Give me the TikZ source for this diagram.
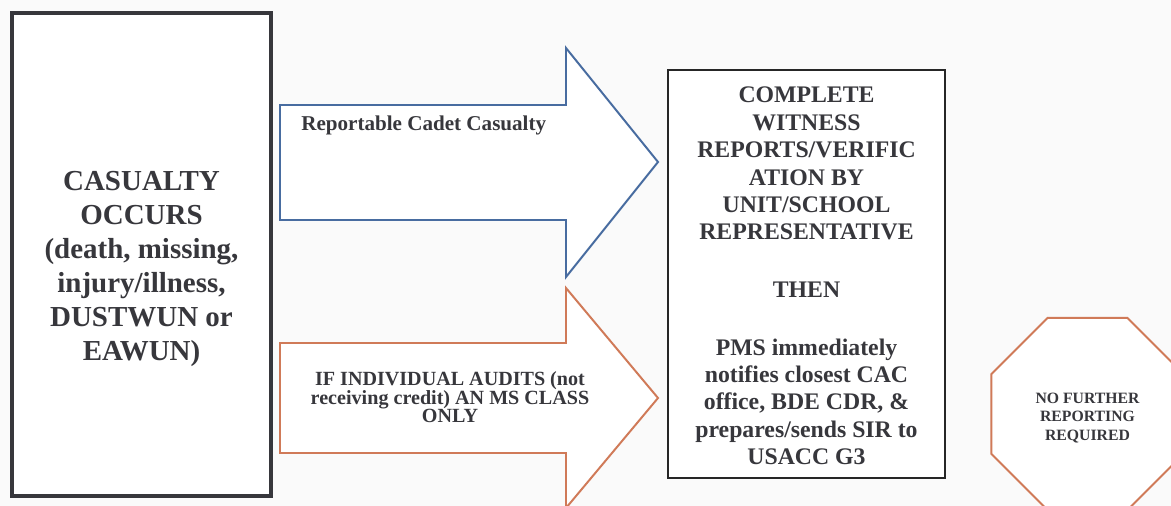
\documentclass[tikz,border=0pt]{standalone}
\usepackage{fontspec}
\setmainfont{Liberation Serif}[BoldFont={Liberation Serif Bold}]
\usetikzlibrary{shapes.geometric}
\definecolor{flechaazul}{RGB}{72,108,160}
\definecolor{flechanaranja}{RGB}{208,122,88}
\definecolor{textogris}{RGB}{55,55,60}

\begin{document}
\begin{tikzpicture}[x=0.025cm, y=-0.025cm,
  caja/.style={draw, rectangle, fill=white, inner sep=0pt},
  texto/.style={text=textogris, align=center, inner sep=0pt},
  flecha/.style={line width=1.4pt, fill=white, line join=miter}]

  % Fondo
  \fill[gray!4] (0,0) rectangle (1171,506);
  \useasboundingbox (0,0) rectangle (1171,506);

  % Caja de la izquierda
  \node[caja, draw=textogris, line width=2.8pt,
        minimum width=6.475cm, minimum height=12.075cm] (casualty) at (141.5,254.5) {};
  \node[texto, font=\bfseries\fontsize{20.6}{24.2}\selectfont] (casualtytxt) at (141.5,269)
    {CASUALTY\\ OCCURS\\ (death, missing,\\ injury/illness,\\ DUSTWUN or\\ EAWUN)};

  %-------------------------------------
  % FLECHA AZUL (arriba)
  %-------------------------------------
  \draw[flecha, draw=flechaazul]
    (280,105) -- (566,105) -- (566,48) -- (658,162) -- (566,277) -- (566,220) -- (280,220) -- cycle;
  \node[texto, anchor=west, font=\bfseries\fontsize{15}{17}\selectfont] (reportable) at (301,125)
    {Reportable Cadet Casualty};

  %-------------------------------------
  % FLECHA NARANJA (abajo)
  %-------------------------------------
  \draw[flecha, draw=flechanaranja]
    (280,343) -- (566,343) -- (566,288) -- (658,398) -- (566,508) -- (566,453) -- (280,453) -- cycle;
  \node[texto, font=\bfseries\fontsize{14.3}{12.8}\selectfont] (audits) at (450,397)
    {IF INDIVIDUAL AUDITS (not\\ receiving credit) AN MS CLASS\\ ONLY};

  % Caja central
  \node[caja, draw=black!85, line width=1.4pt,
        minimum width=6.925cm, minimum height=10.2cm] (witness) at (806.5,274) {};
  \node[texto, font=\bfseries\fontsize{16.9}{19.5}\selectfont] (witnesstxt) at (806.5,276)
    {COMPLETE\\ WITNESS\\ REPORTS/VERIFIC\\ ATION BY\\ UNIT/SCHOOL\\ REPRESENTATIVE\\[1.1\baselineskip]
     THEN\\[1.1\baselineskip]
     PMS immediately\\ notifies closest CAC\\ office, BDE CDR, \&\\ prepares/sends SIR to\\ USACC G3};

  % Octagono
  \node[regular polygon, regular polygon sides=8, minimum size=5.2cm,
        draw=flechanaranja, fill=white, line width=1.4pt] (stop) at (1087.5,414) {};
  \node[texto, font=\bfseries\fontsize{11.2}{13.2}\selectfont] (stoptxt) at (1087.5,418)
    {NO FURTHER\\ REPORTING\\ REQUIRED};

\end{tikzpicture}
\end{document}
